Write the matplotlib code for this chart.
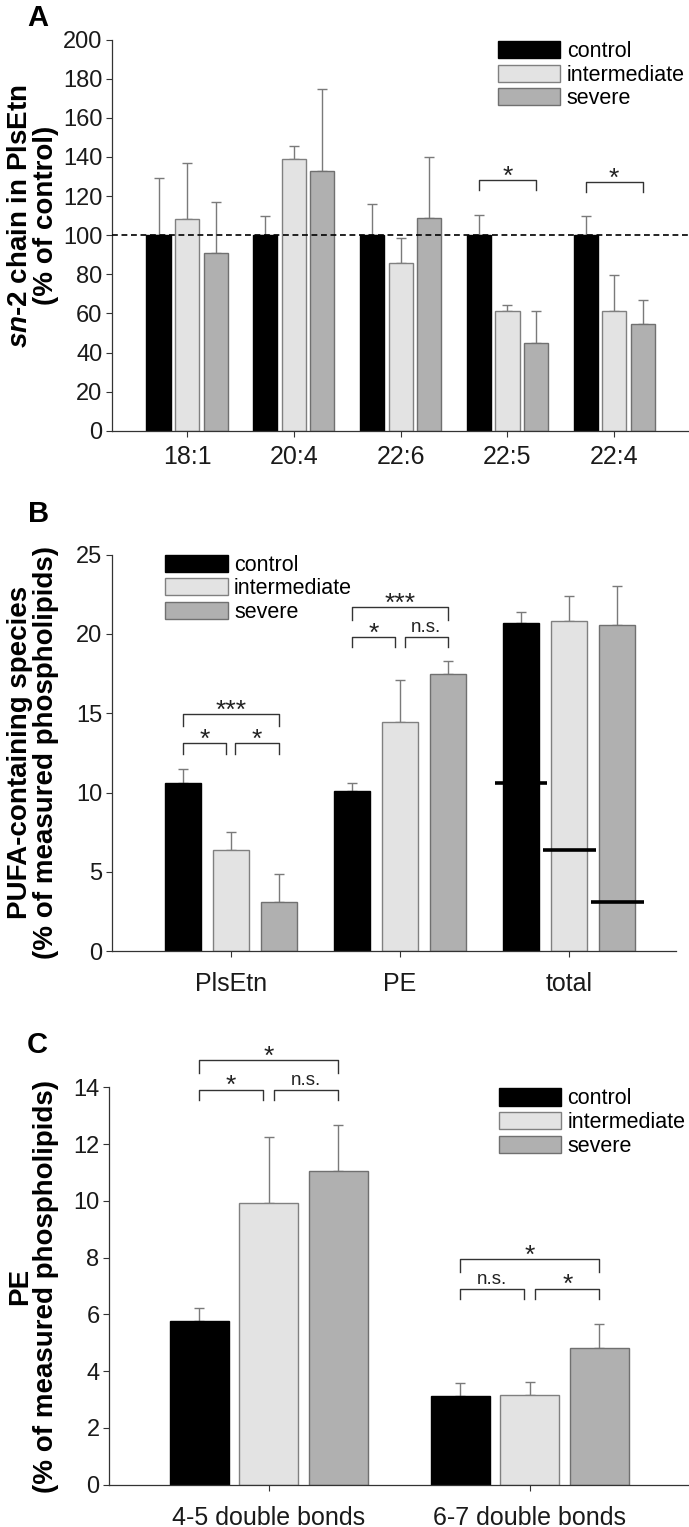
import matplotlib
matplotlib.use('Agg')
import matplotlib.pyplot as plt
import numpy as np

plt.rcParams['font.family'] = ['Liberation Sans', 'DejaVu Sans']
plt.rcParams['mathtext.fontset'] = 'custom'
plt.rcParams['mathtext.it'] = 'Liberation Sans:italic:bold'
plt.rcParams['mathtext.rm'] = 'Liberation Sans:bold'

groups = ['control', 'intermediate', 'severe']
colors = ['#000000', '#e3e3e3', '#b0b0b0']
edges = ['#000000', '#808080', '#707070']

# panel A: sn-2 chain in PlsEtn (% of control)
a_labels = ['18:1', '20:4', '22:6', '22:5', '22:4']
a_control = [100, 100, 100, 100, 100]
a_control_err = [29.3, 10.0, 16.0, 10.4, 9.7]
a_inter = [108.2, 138.9, 85.7, 61.3, 61.3]
a_inter_err = [28.5, 6.5, 13.0, 3.2, 18.2]
a_severe = [90.8, 133.0, 108.7, 45.0, 54.8]
a_severe_err = [26.3, 41.8, 31.2, 16.3, 12.0]
# (group, from bar, to bar, bracket y, leg end y, text)
a_sig = [(3, 0, 2, 128.2, 123.0, '*'), (4, 0, 2, 127.0, 122.0, '*')]

# panel B: PUFA-containing species
b_labels = ['PlsEtn', 'PE', 'total']
b_control = [10.60, 10.08, 20.68]
b_control_err = [0.88, 0.52, 0.72]
b_inter = [6.35, 14.47, 20.84]
b_inter_err = [1.19, 2.65, 1.53]
b_severe = [3.13, 17.46, 20.59]
b_severe_err = [1.71, 0.83, 2.41]
b_sig = [(0, 0, 2, 14.94, 14.18, '***'), (0, 0, 1, 13.12, 12.44, '*'), (0, 1, 2, 13.12, 12.44, '*'),
         (1, 0, 2, 21.70, 20.88, '***'), (1, 0, 1, 19.80, 19.20, '*'), (1, 1, 2, 19.80, 19.20, 'n.s.')]

# panel C: PE
c_labels = ['4-5 double bonds', '6-7 double bonds']
c_control = [5.76, 3.14]
c_control_err = [0.48, 0.46]
c_inter = [9.91, 3.17]
c_inter_err = [2.34, 0.44]
c_severe = [11.04, 4.80]
c_severe_err = [1.64, 0.85]
c_sig = [(0, 0, 2, 14.95, 14.52, '*'), (0, 0, 1, 13.92, 13.55, '*'), (0, 1, 2, 13.92, 13.55, 'n.s.'),
         (1, 0, 2, 7.95, 7.50, '*'), (1, 0, 1, 6.91, 6.56, 'n.s.'), (1, 1, 2, 6.91, 6.56, '*')]


def draw_bars(ax, labels, vals, errs, width, offset, xlim, ylim, yticks, xpad):
    x = np.arange(len(labels))
    for i, (v, e) in enumerate(zip(vals, errs)):
        xi = x + (i - 1) * offset
        ax.bar(xi, v, width, color=colors[i], edgecolor=edges[i], linewidth=1.0,
               label=groups[i], zorder=2)
        ax.errorbar(xi, v, yerr=[np.zeros(len(e)), e], fmt='none', ecolor='#7a7a7a',
                    elinewidth=1.0, capsize=3.5, capthick=1.0, zorder=1)
    ax.set_xlim(*xlim)
    ax.set_ylim(*ylim)
    ax.set_yticks(yticks)
    ax.set_xticks(x)
    ax.set_xticklabels(labels)
    for s in ['top', 'right']:
        ax.spines[s].set_visible(False)
    for s in ['left', 'bottom']:
        ax.spines[s].set_color('#333333')
        ax.spines[s].set_linewidth(0.9)
    ax.tick_params(axis='y', labelsize=17, length=4, width=0.8, color='#333333', pad=3, labelcolor='#1a1a1a')
    ax.tick_params(axis='x', labelsize=18, length=4, width=0.8, color='#333333', pad=xpad, labelcolor='#1a1a1a')
    return x


def brackets(ax, sig, offset, gap):
    for g, b1, b2, y, ylow, txt in sig:
        x1 = g + (b1 - 1) * offset
        x2 = g + (b2 - 1) * offset
        if b2 - b1 == 1:
            if b1 == 1:
                x1 += gap
            else:
                x2 -= gap
        ax.plot([x1, x1, x2, x2], [ylow, y, y, ylow], color='#333333', lw=1.0,
                clip_on=False, zorder=3)
        if txt == 'n.s.':
            ax.annotate(txt, ((x1 + x2) / 2, y), xytext=(0, 3.5), textcoords='offset points',
                        ha='center', va='baseline', fontsize=13.5, color='#222222',
                        annotation_clip=False)
        else:
            ax.annotate(txt, ((x1 + x2) / 2, y), xytext=(0, -2.5), textcoords='offset points',
                        ha='center', va='baseline', fontsize=19, color='#222222',
                        annotation_clip=False)


def legend(ax, anchor):
    ax.legend(loc='upper left', bbox_to_anchor=anchor, frameon=False, fontsize=15.5,
              handlelength=2.9, handleheight=0.85, labelspacing=0.12, handletextpad=0.3,
              borderpad=0, borderaxespad=0)


fig = plt.figure(figsize=(6.89, 15.27), dpi=100)

# A
axA = fig.add_axes([0.163, 0.7179, 0.837, 0.2562])
draw_bars(axA, a_labels, [a_control, a_inter, a_severe], [a_control_err, a_inter_err, a_severe_err],
          0.226, 0.267, (-0.7, 4.7), (0, 200), np.arange(0, 201, 20), 6)
axA.axhline(100, color='black', lw=1.2, ls=(0, (3.5, 2.2)), zorder=4, clip_on=False)
brackets(axA, a_sig, 0.267, 0.025)
legend(axA, (0.6685, 0.9964))
axA.set_ylabel('$\\mathit{sn}$-2 chain in PlsEtn\n(% of control)', fontsize=20, fontweight='bold',
               linespacing=1.0)
axA.yaxis.set_label_coords(-0.092, 0.55)
fig.text(27 / 689, 1 - 26 / 1527, 'A', fontsize=21, fontweight='bold', ha='left', va='baseline')

# B
axB = fig.add_axes([0.163, 0.3771, 0.818, 0.2597])
xb = draw_bars(axB, b_labels, [b_control, b_inter, b_severe], [b_control_err, b_inter_err, b_severe_err],
               0.211, 0.284, (-0.7, 2.63), (0, 25), np.arange(0, 26, 5), 11)
# PlsEtn contribution marked inside the total bars
axB.hlines(b_control[0], xb[2] - 0.284 - 0.155, xb[2] - 0.284 + 0.155, color='black', lw=2.6, zorder=4)
axB.hlines(b_inter[0], xb[2] - 0.155, xb[2] + 0.155, color='black', lw=2.6, zorder=4)
axB.hlines(b_severe[0], xb[2] + 0.284 - 0.155, xb[2] + 0.284 + 0.155, color='black', lw=2.6, zorder=4)
brackets(axB, b_sig, 0.284, 0.027)
legend(axB, (0.0938, 1.0))
axB.set_ylabel('PUFA-containing species\n(% of measured phospholipids)', fontsize=20,
               fontweight='bold', linespacing=1.0)
axB.yaxis.set_label_coords(-0.0946, 0.5)
fig.text(28 / 689, 1 - 522 / 1527, 'B', fontsize=21, fontweight='bold', ha='left', va='baseline')

# C
axC = fig.add_axes([0.1586, 0.0277, 0.8414, 0.2602])
draw_bars(axC, c_labels, [c_control, c_inter, c_severe], [c_control_err, c_inter_err, c_severe_err],
          0.226, 0.266, (-0.61, 1.61), (0, 14), np.arange(0, 15, 2), 11)
brackets(axC, c_sig, 0.266, 0.022)
legend(axC, (0.6717, 0.9975))
axC.set_ylabel('PE\n(% of measured phospholipids)', fontsize=20, fontweight='bold', linespacing=1.0)
axC.yaxis.set_label_coords(-0.0868, 0.5)
fig.text(27 / 689, 1 - 1053 / 1527, 'C', fontsize=21, fontweight='bold', ha='left', va='baseline')

fig.savefig('out.png', dpi=100)
